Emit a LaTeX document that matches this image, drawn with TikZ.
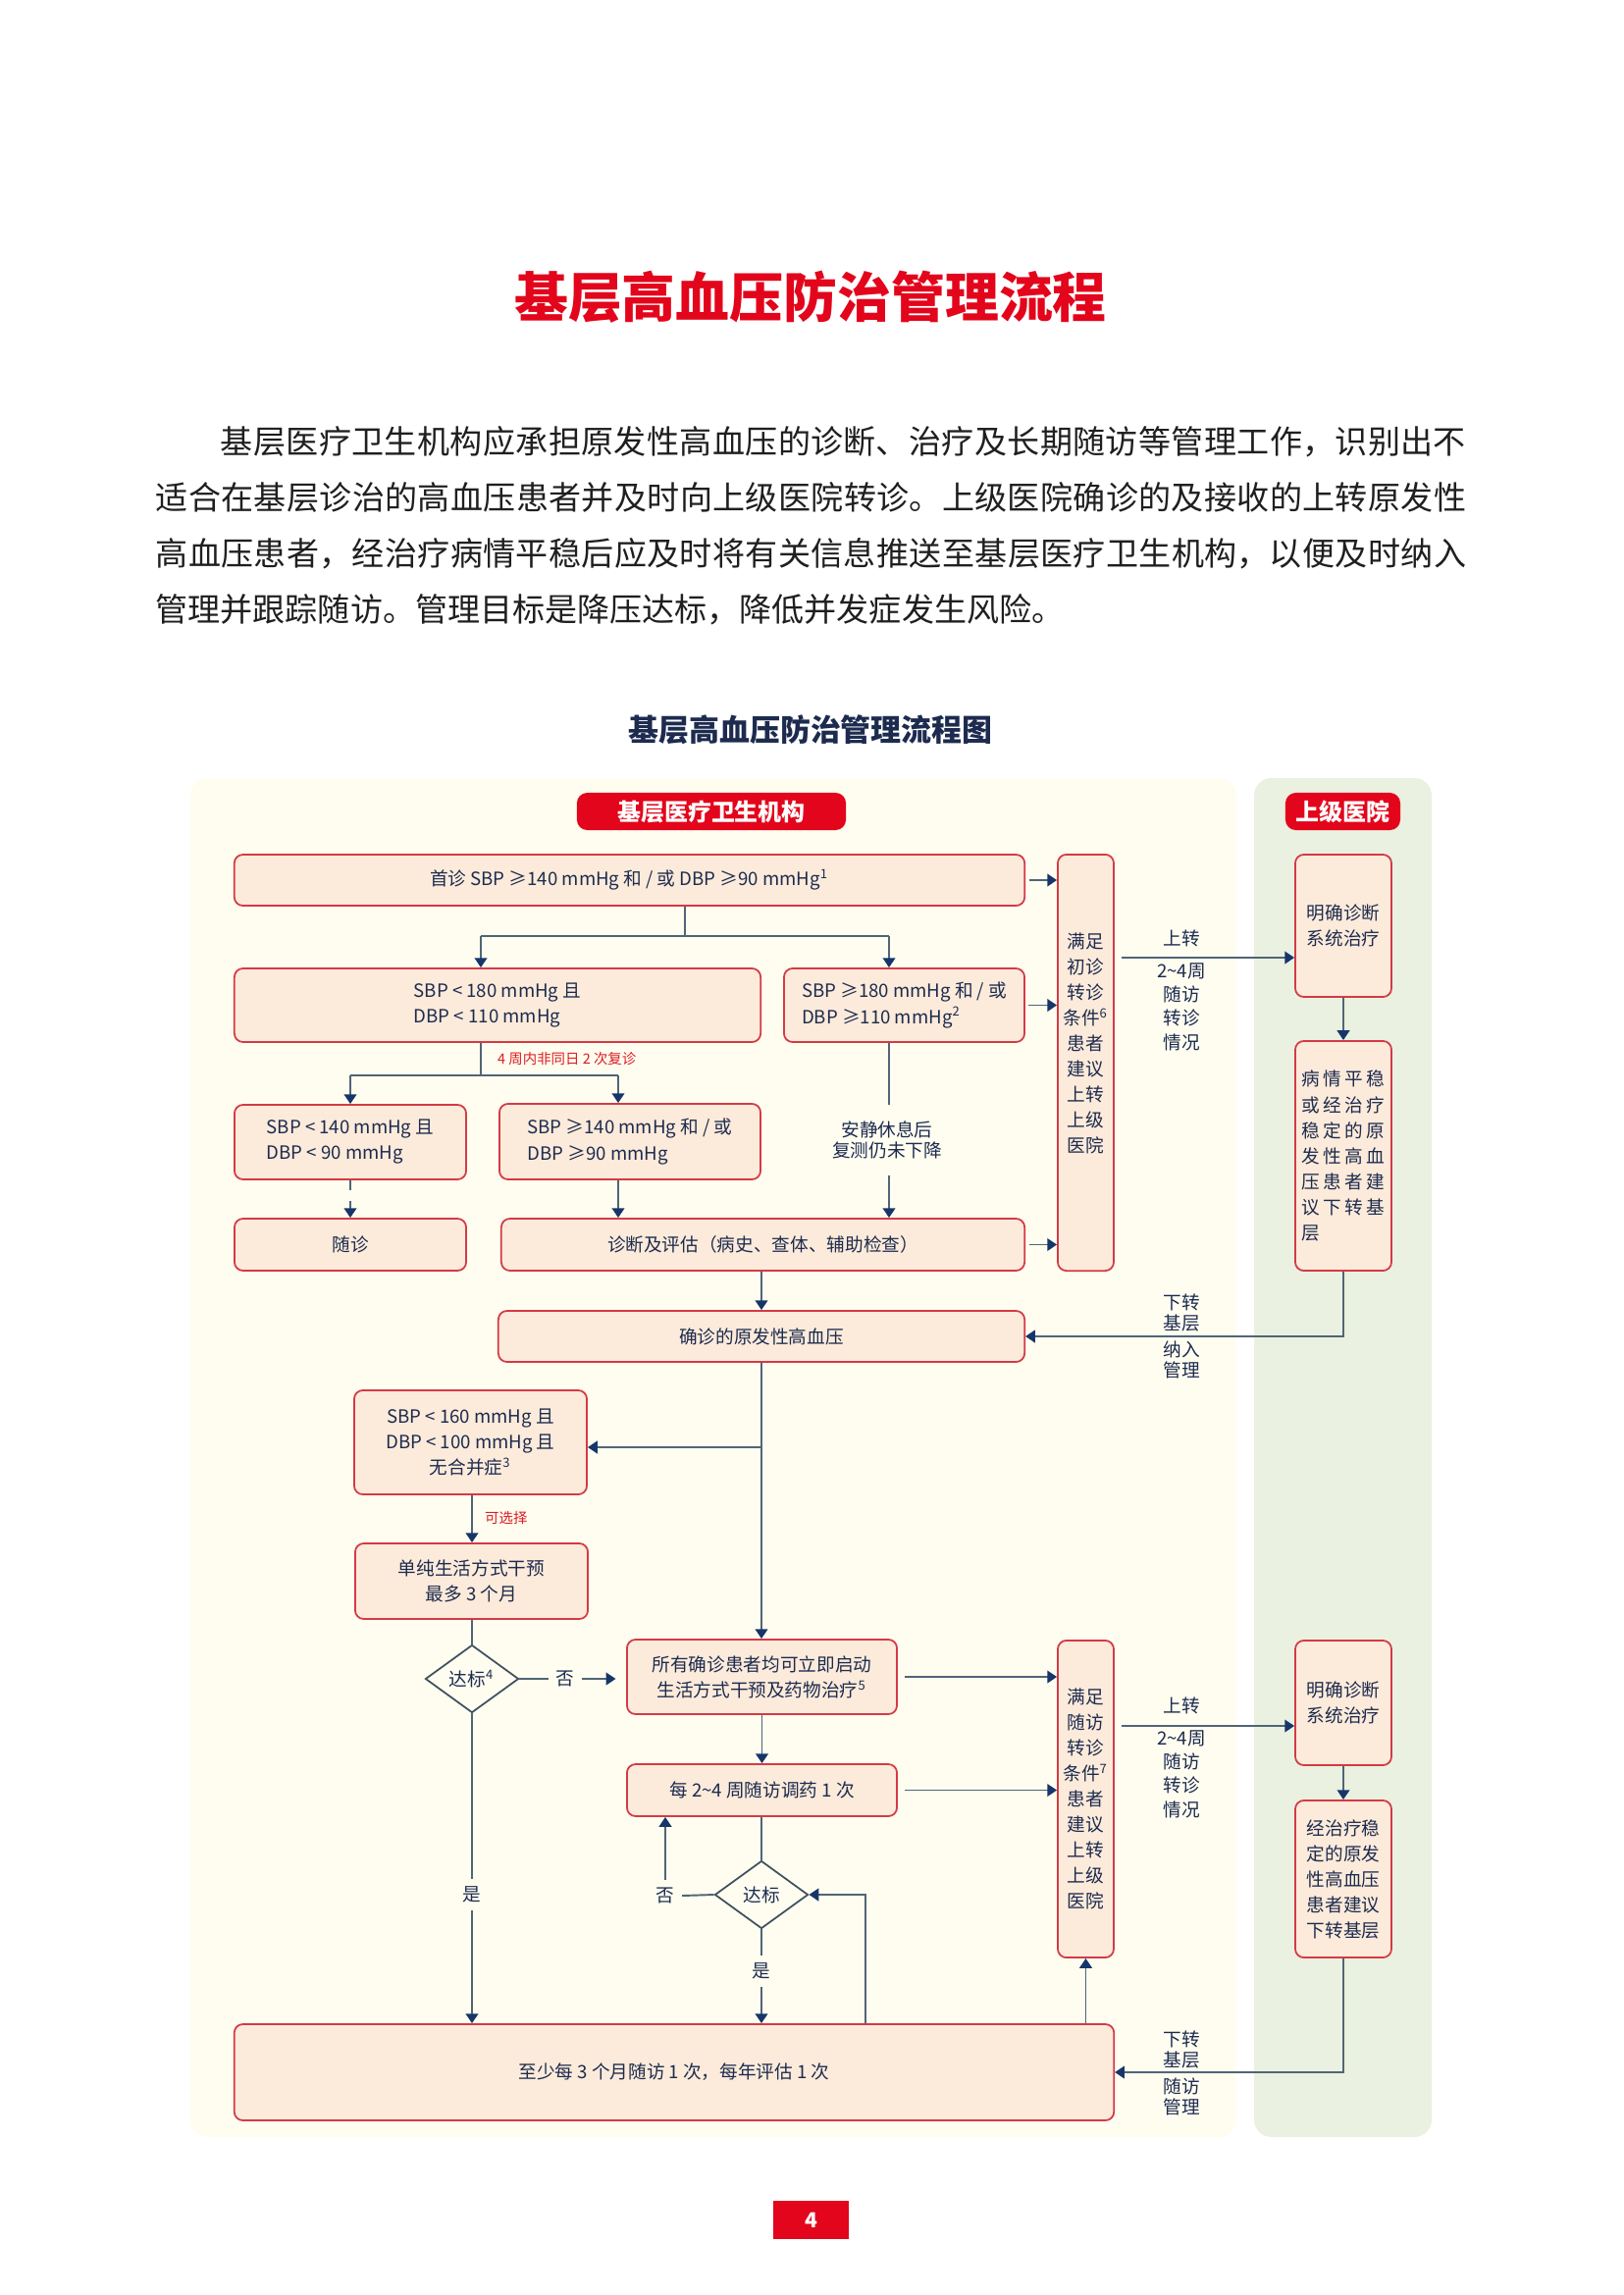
\documentclass[tikz,border=0pt]{standalone}
\usepackage{fontspec}
\setmainfont{Noto Sans CJK SC}
\usetikzlibrary{shapes.geometric,arrows.meta}
\setlength{\parindent}{0pt}

\definecolor{bgleft}{HTML}{FEFDF0}
\definecolor{bgright}{HTML}{EAF1E0}
\definecolor{headred}{HTML}{E3051B}
\definecolor{boxfill}{HTML}{FCEBDA}
\definecolor{boxline}{HTML}{D43A46}
\definecolor{linegray}{HTML}{506577}
\definecolor{tipnavy}{HTML}{16366A}
\definecolor{inktext}{HTML}{1D2B4F}
\definecolor{notered}{HTML}{E01B22}

\newcommand\dfont{\fontsize{5.3}{7.4}\selectfont}
\newcommand\ifont{\fontsize{5.3}{6.9}\selectfont}
\newcommand\sfont{\fontsize{5.3}{6}\selectfont}
\newcommand\rfont{\fontsize{4.1}{5}\selectfont}

\tikzset{
  flowbox/.style={draw=boxline, fill=boxfill, line width=0.5pt, rounded corners=2.5pt,
    text=inktext, font=\dfont, align=center, inner sep=0pt},
  decision/.style={diamond, draw=linegray!80!black, line width=0.5pt, text=inktext,
    font=\dfont, inner sep=0pt, minimum width=0.95cm, minimum height=0.69cm},
  header/.style={fill=headred, rounded corners=3pt, text=white,
    font=\bfseries\fontsize{6.8}{8}\selectfont, inner sep=0pt},
  plain/.style={text=inktext, font=\dfont, inner sep=2pt},
  note/.style={text=notered, font=\rfont, inner sep=1pt},
  conn/.style={draw=linegray, line width=0.55pt},
  arr/.style={conn, -{Triangle[length=2.8pt, width=3.6pt, color=tipnavy]}}
}

\begin{document}
\begin{tikzpicture}[x=0.01cm, y=-0.01cm]
\useasboundingbox (0,0) rectangle (1654,2339);

% Title and text
\node[font=\bfseries\fontsize{15.6}{18}\selectfont, text=headred] (title) at (826,303) {基层高血压防治管理流程};
\node[anchor=north west, text width=13.38cm, inner sep=0pt, font=\fontsize{9.4}{16.2}\selectfont, text=black!88] (intro) at (158,434) {\XeTeXlinebreaklocale "zh"\XeTeXlinebreakskip=0pt plus 2pt\noindent\hspace*{2em}基层医疗卫生机构应承担原发性高血压的诊断、治疗及长期随访等管理工作，识别出不\linebreak 适合在基层诊治的高血压患者并及时向上级医院转诊。上级医院确诊的及接收的上转原发性\linebreak 高血压患者，经治疗病情平稳后应及时将有关信息推送至基层医疗卫生机构，以便及时纳入\linebreak 管理并跟踪随访。管理目标是降压达标，降低并发症发生风险。};
\node[font=\bfseries\fontsize{8.8}{10}\selectfont, text=inktext] (subtitle) at (826,744) {基层高血压防治管理流程图};

% Panels
\fill[bgleft, rounded corners=5pt] (194,793) rectangle (1260,2178);
\fill[bgright, rounded corners=5pt] (1278,793) rectangle (1459,2178);
\node[header, minimum width=2.74cm, minimum height=0.38cm] (basehead) at (725,827) {基层医疗卫生机构};
\node[header, minimum width=1.17cm, minimum height=0.38cm] (tophead) at (1368.5,827) {上级医院};

% Nodes
\node[flowbox, minimum width=8.05cm, minimum height=0.52cm] (first) at (641.5,897) {首诊 SBP ≥140 mmHg 和 / 或 DBP ≥90 mmHg\textsuperscript{1}};
\node[flowbox, minimum width=0.57cm, minimum height=4.24cm] (referA) at (1106.5,1083) {满足\\初诊\\转诊\\条件\textsuperscript{6}\\患者\\建议\\上转\\上级\\医院\\[4pt]\mbox{}};
\node[flowbox, minimum width=0.98cm, minimum height=1.45cm] (treatA) at (1369,943.5) {明确诊断\\系统治疗};
\node[flowbox, minimum width=0.98cm, minimum height=2.34cm, text width=0.84cm, align=left] (stableA) at (1369,1178) {病\hfill 情\hfill 平\hfill 稳\\或\hfill 经\hfill 治\hfill 疗\\稳\hfill 定\hfill 的\hfill 原\\发\hfill 性\hfill 高\hfill 血\\压\hfill 患\hfill 者\hfill 建\\议\hfill 下\hfill 转\hfill 基\\层};
\node[flowbox, minimum width=5.36cm, minimum height=0.75cm, align=left] (mild) at (507,1024.5) {SBP < 180 mmHg 且\\DBP < 110 mmHg};
\node[flowbox, minimum width=2.45cm, minimum height=0.75cm, align=left] (severe) at (921.5,1024.5) {SBP ≥180 mmHg 和 / 或\\DBP ≥110 mmHg\textsuperscript{2}};
\node[flowbox, minimum width=2.36cm, minimum height=0.76cm, align=left] (normal) at (357,1164) {SBP < 140 mmHg 且\\DBP < 90 mmHg};
\node[flowbox, minimum width=2.66cm, minimum height=0.77cm, align=left] (high) at (642,1163.5) {SBP ≥140 mmHg 和 / 或\\DBP ≥90 mmHg};
\node[flowbox, minimum width=2.36cm, minimum height=0.53cm] (revisit) at (357,1268.5) {随诊};
\node[flowbox, minimum width=5.33cm, minimum height=0.53cm] (assess) at (777.5,1268.5) {诊断及评估（病史、查体、辅助检查）};
\node[flowbox, minimum width=5.36cm, minimum height=0.52cm] (confirm) at (776,1362) {确诊的原发性高血压};
\node[flowbox, minimum width=2.37cm, minimum height=1.06cm] (lowrisk) at (479.5,1470) {SBP < 160 mmHg 且\\DBP < 100 mmHg 且\\无合并症\textsuperscript{3}};
\node[flowbox, minimum width=2.37cm, minimum height=0.77cm] (lifestyle) at (480.5,1611.5) {单纯生活方式干预\\最多 3 个月};
\node[decision] (goalA) at (481,1711) {达标\textsuperscript{4}};
\node[flowbox, minimum width=2.75cm, minimum height=0.76cm] (drug) at (776.5,1709) {所有确诊患者均可立即启动\\生活方式干预及药物治疗\textsuperscript{5}};
\node[flowbox, minimum width=2.75cm, minimum height=0.53cm] (adjust) at (776.5,1824.5) {每 2\textasciitilde 4 周随访调药 1 次};
\node[decision] (goalB) at (776,1931) {达标};
\node[flowbox, minimum width=0.57cm, minimum height=3.23cm] (referB) at (1106.5,1833.5) {满足\\随访\\转诊\\条件\textsuperscript{7}\\患者\\建议\\上转\\上级\\医院};
\node[flowbox, minimum width=0.98cm, minimum height=1.27cm] (treatB) at (1369,1735.5) {明确诊断\\系统治疗};
\node[flowbox, minimum width=0.98cm, minimum height=1.6cm] (stableB) at (1369,1915) {经治疗稳\\定的原发\\性高血压\\患者建议\\下转基层};
\node[flowbox, minimum width=8.96cm, minimum height=0.98cm] (followup) at (687,2112) {至少每 3 个月随访 1 次，每年评估 1 次};

% Labels
\node[note, anchor=west] (twice) at (503,1079) {4 周内非同日 2 次复诊};
\node[note, anchor=west] (optional) at (490,1547) {可选择};
\node[plain, font=\sfont, align=center, inner ysep=4.5pt] (rest) at (904,1162) {安静休息后\\复测仍未下降};
\node[plain] (noA) at (576,1711) {否};
\node[plain] (yesA) at (481,1931) {是};
\node[plain] (noB) at (678,1932) {否};
\node[plain] (yesB) at (776,2009) {是};
\node[plain] (upA) at (1204,956) {上转};
\node[plain, font=\ifont, align=center] (upAinfo) at (1204,1026) {2\textasciitilde 4周\\随访\\转诊\\情况};
\node[plain, font=\sfont, align=center] (downA1) at (1204,1338) {下转\\基层};
\node[plain, font=\sfont, align=center] (downA2) at (1204,1386) {纳入\\管理};
\node[plain] (upB) at (1204,1738) {上转};
\node[plain, font=\ifont, align=center] (upBinfo) at (1204,1808) {2\textasciitilde 4周\\随访\\转诊\\情况};
\node[plain, font=\sfont, align=center] (downB1) at (1204,2089) {下转\\基层};
\node[plain, font=\sfont, align=center] (downB2) at (1204,2137) {随访\\管理};

% Points
\coordinate (splitA) at (698,954);
\coordinate (splitL) at (490,954);
\coordinate (splitR) at (906,954);
\coordinate (splitB) at (490,1096);
\coordinate (splitBL) at (357,1096);
\coordinate (splitBR) at (630,1096);
\coordinate (sendA) at (1143,976);
\coordinate (sendB) at (1143,1759);
\coordinate (sideI) at (776,1475);
\coordinate (loop) at (882,1931);

% Edges
\draw[conn] (first.south -| splitA) -- (splitA);
\draw[conn] (splitL) -- (splitR);
\draw[arr] (splitL) -- (splitL |- mild.north);
\draw[arr] (splitR) -- (splitR |- severe.north);
\draw[arr, shorten <=1pt] (first.east) -- (first.east -| referA.west);
\draw[arr, shorten <=1pt] (severe.east) -- (severe.east -| referA.west);
\draw[arr, shorten <=1pt] (assess.east) -- (assess.east -| referA.west);
\draw[conn] (mild.south -| splitB) -- (splitB);
\draw[conn] (splitBL) -- (splitBR);
\draw[arr] (splitBL) -- (splitBL |- normal.north);
\draw[arr] (splitBR) -- (splitBR |- high.north);
\draw[conn] (severe.south -| splitR) -- (rest.north -| splitR);
\draw[arr] (rest.south -| splitR) -- (assess.north -| splitR);
\draw[arr, dashed] (normal.south) -- (revisit.north);
\draw[arr] (high.south -| splitBR) -- (assess.north -| splitBR);
\draw[arr] (assess.south -| confirm.north) -- (confirm.north);
\draw[arr] (sendA) -- (sendA -| treatA.west);
\draw[arr] (treatA.south) -- (stableA.north);
\draw[arr] (stableA.south) |- (confirm.east);
\draw[arr] (confirm.south) -- (confirm.south |- drug.north);
\draw[arr] (sideI) -- (sideI -| lowrisk.east);
\draw[arr] (lowrisk.south -| goalA) -- (lifestyle.north -| goalA);
\draw[conn] (lifestyle.south -| goalA) -- (goalA.north);
\draw[conn] (goalA.east) -- (noA.west);
\draw[arr, shorten >=3pt] (noA.east) -- (noA.east -| drug.west);
\draw[conn] (goalA.south) -- (yesA.north);
\draw[arr] (yesA.south) -- (yesA.south |- followup.north);
\draw[arr, shorten <=2pt] (drug.east) -- (drug.east -| referB.west);
\draw[arr] (drug.south) -- (adjust.north);
\draw[arr, shorten <=2pt] (adjust.east) -- (adjust.east -| referB.west);
\draw[conn] (adjust.south -| goalB) -- (goalB.north);
\draw[conn] (goalB.west) -- (noB.east);
\draw[arr] (noB.north) -- (noB.north |- adjust.south);
\draw[conn] (goalB.south) -- (yesB.north);
\draw[arr] (yesB.south) -- (yesB.south |- followup.north);
\draw[arr] (loop |- followup.north) -- (loop) -- (goalB.east);
\draw[arr] (followup.north -| referB.south) -- (referB.south);
\draw[arr] (sendB) -- (sendB -| treatB.west);
\draw[arr] (treatB.south) -- (stableB.north);
\draw[arr] (stableB.south) |- (followup.east);

% Page number
\node[fill=headred, text=white, font=\bfseries\fontsize{6}{7}\selectfont, minimum width=0.77cm, minimum height=0.39cm, inner sep=0pt] (page) at (826.5,2262.5) {4};

\end{tikzpicture}
\end{document}
